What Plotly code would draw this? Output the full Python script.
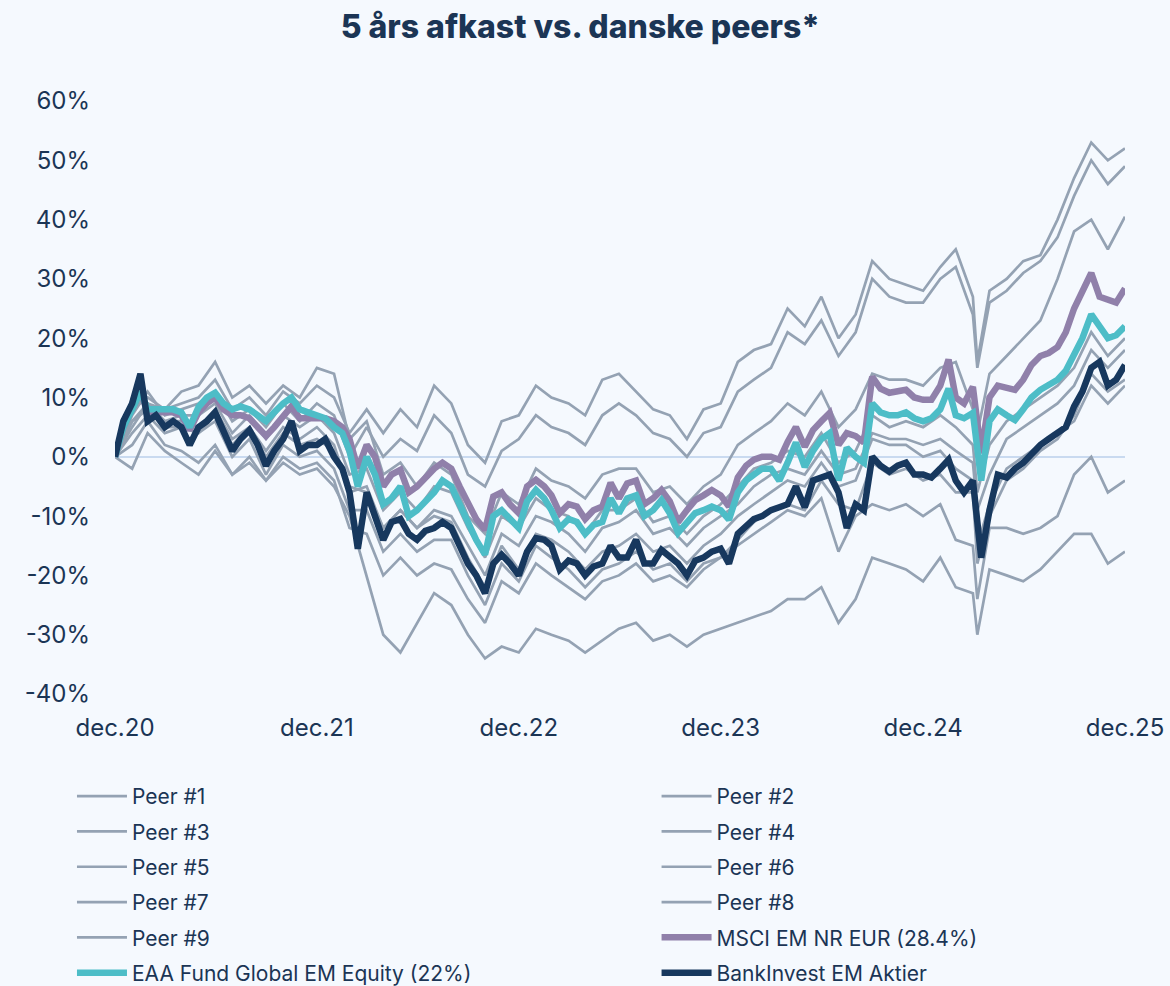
import datetime as dt
import plotly.graph_objects as go

# ---------------- data (percent returns) ----------------
# semi-monthly grid: 2020-12-31, 2021-01-15, 2021-01-31, ... 2025-12-31 (121 points)
bankinvest = [0, 6, 9, 14, 6, 7, 5, 6, 5, 2, 5, 6, 7.5, 4, 1, 3, 4.5, 2, -1.5, 1,
              3, 6, 1, 2, 2, 3, 0, -2, -6, -15.5, -6, -10, -14, -11, -10.5, -13, -14, -12.5, -12, -11,
              -12, -15, -18, -20, -23, -18, -16.5, -18, -20, -16, -13.7, -14, -15, -19, -17.5, -18, -20, -18.5, -18, -15,
              -17, -17, -14, -18, -18, -15.7, -17, -18, -20, -17.5, -17, -16, -15.5, -18, -13, -11.5, -10.5, -10, -9, -8.5,
              -8, -5, -8.5, -4, -3.5, -3, -6, -12, -8, -9, 0, -1.5, -2.5, -1.5, -1, -3, -3, -3.5, -2, -0.5,
              -4, -6, -4, -17, -9, -3, -3.5, -2, -1, 0.5, 2, 3, 4, 5, 8.5, 11, 15, 16, 12, 13, 15.5]
eaa = [0, 5, 8, 11, 8, 8, 8, 8, 7.5, 5, 8.4, 10, 10.8, 9, 8, 8.5, 8, 7, 6, 7.5,
       9, 10, 8, 7.5, 7, 6.5, 5, 4, 1, -5, 0, -3, -8, -7, -5, -10, -9, -7.5, -6, -4,
       -5, -8, -11, -14, -16.5, -10, -9, -10.5, -12, -7.5, -5.6, -7, -9, -12, -10.5, -11, -13, -11.5, -11, -7,
       -9.5, -7, -6.5, -10, -9, -7.3, -9.5, -12.8, -11, -9.5, -9, -8.4, -9, -10.6, -6, -4, -3, -2, -2, -4,
       -1, 2.4, -1.7, 1, 3, 4, -4, 1.5, 0, -1, 9, 7.5, 7, 7, 7.5, 6.5, 6, 6.5, 8, 11.5,
       7, 6.5, 7.4, -4, 6, 8, 7, 6.2, 8, 10, 11.3, 12, 13, 14.5, 17.5, 20, 24, 22, 20, 20.5, 22]
msci = [0, 5, 8, 11, 7.5, 7.5, 7.5, 7.5, 7, 4.5, 7.5, 9, 10, 8, 7, 7, 6.5, 5, 3.5, 5,
        7, 8.5, 6.5, 6.5, 6.5, 6.5, 6, 5, 3, -2, 2, 0, -5, -3, -2.2, -6, -5, -3.5, -2, -1,
        -2, -5, -8, -10.5, -12.3, -6.7, -6, -8, -9.5, -5, -3.9, -5, -6.5, -9.5, -8, -8.4, -10.5, -9, -8.4, -4.4,
        -7, -4.5, -4, -8, -7, -5.6, -7.5, -11, -9, -7.3, -6.5, -5.6, -6.5, -8.4, -3.5, -1.5, -0.5, 0, 0, -0.5,
        2.5, 5, 1.7, 4.5, 6, 7.4, 2, 4, 3.5, 2.4, 13.5, 11.5, 10.8, 11, 11.3, 10, 9.6, 9.6, 12, 16.4,
        10, 9, 11.8, 0.6, 10, 12, 11.5, 11.3, 13, 15.5, 17, 17.5, 18.5, 21, 25, 28, 31, 27, 26.5, 26, 28.4]

# monthly grid for peers: month ends 2020-12 .. 2025-12, plus 2025-04-08 after 2025-03-31 (62 points)
peer1 = [0, 10, 9, 8, 9, 10, 13, 8, 10, 7, 11, 9, 12, 10, 4, 8, 4, 8, 5, 12, 9, 2, -1, 6, 7, 12, 10, 9, 7, 13,
         14, 11, 8, 7, 3, 8, 9, 16, 18, 19, 25, 22, 27, 20, 24, 33, 30, 29, 28, 32, 35, 27, 16,
         28, 30, 33, 34, 40, 47, 53, 50, 52]
peer2 = [0, 7, 11, 7, 8, 9, 11, 6, 8, 5, 9, 6, 9, 7, 0, 5, 0, 3, 1, 7, 4, -3, -5, 1, 3, 7, 5, 4, 2, 7,
         9, 7, 4, 3, 0, 4, 5, 11, 13, 15, 21, 19, 23, 17, 21, 30, 27, 26, 26, 30, 32, 24, 15,
         26, 28, 31, 33, 37, 44, 50, 46, 49]
peer3 = [0, 8, 10, 8, 11, 12, 16, 10, 12, 9, 12, 10, 15, 14, 3, 6, -3, -1, -5, -1, -3, -10, -13, -6, -8, -2, -4, -5, -7, -3,
         -2, -2, -6, -5, -8, -5, -3, 2, 4, 6, 9, 7, 11, 5, 8, 14, 13, 13, 12, 15, 16, 8, 4,
         14, 17, 20, 23, 30, 38, 40, 35, 40.5]
peer4 = [0, 6, 9, 6, 7, 7, 9, 4, 7, 3, 7, 5, 7, 4, -3, -2, -9, -6, -9, -5, -6, -12, -17, -10, -12, -7, -9, -10, -13, -9,
         -9, -7, -11, -10, -13, -10, -8, -5, -2, -1, 1, 0, 4, -1, 1, 7, 5, 6, 5, 7, 5, 2, -6,
         2, 6, 8, 10, 12, 15, 21, 17, 20]
peer5 = [0, 4, 7, 4, 5, 4, 7, 2, 5, 1, 5, 3, 5, 2, -6, -5, -12, -9, -12, -9, -10, -15, -20, -13, -15, -10, -11, -13, -16, -12,
         -11, -9, -13, -12, -15, -12, -10, -8, -5, -3, -2, -3, 1, -3, -2, 4, 3, 3, 2, 3, 1, -1, -9,
         -3, 3, 5, 7, 9, 12, 18, 15, 18]
peer6 = [0, 6, 8, 5, 5, 4, 6, 0, 3, -3, 2, 0, 1, -2, -9, -9, -16, -13, -16, -14, -14, -20, -25, -18, -21, -15, -17, -19, -22, -19,
         -18, -16, -19, -18, -21, -18, -17, -14, -11, -9, -8, -9, -4, -8, -9, -1, -3, -2, -4, -3, -6, -6, -18,
         -10, -4, -2, 1, 3, 7, 14, 11, 13]
peer7 = [0, 5, 9, 6, 6, 5, 8, 3, 5, 0, 4, 2, 3, 1, -5, -6, -12, -9, -12, -10, -11, -17, -22, -15, -19, -13, -14, -16, -19, -16,
         -15, -13, -16, -15, -18, -15, -13, -10, -8, -6, -4, -5, -1, -5, -4, 3, 2, 2, 0, 1, -2, -4, -15,
         -8, -2, 0, 2, 4, 6, 12, 9, 12]
peer8 = [0, 2, 6, 2, 1, -1, 2, -3, 0, -4, 0, -2, -1, -4, -12, -13, -20, -17, -20, -18, -19, -24, -28, -21, -23, -18, -20, -22, -24, -21,
         -20, -18, -21, -20, -22, -19, -17, -15, -13, -11, -9, -10, -7, -16, -10, -8, -9, -8, -10, -8, -14, -15, -24,
         -12, -12, -13, -12, -10, -3, 0, -6, -4]
peer9 = [0, -2, 4, 1, -1, -3, 1, -3, -1, -4, -1, -3, -2, -5, -10, -20, -30, -33, -28, -23, -25, -30, -34, -32, -33, -29, -30, -31, -33, -31,
         -29, -28, -31, -30, -32, -30, -29, -28, -27, -26, -24, -24, -22, -28, -24, -17, -18, -19, -21, -17, -22, -23, -30,
         -19, -20, -21, -19, -16, -13, -13, -18, -16]

peer_names = ["Peer #1", "Peer #2", "Peer #3", "Peer #4", "Peer #5",
              "Peer #6", "Peer #7", "Peer #8", "Peer #9"]
peer_series = [peer1, peer2, peer3, peer4, peer5, peer6, peer7, peer8, peer9]

main_names = ["MSCI EM NR EUR (28.4%)", "EAA Fund Global EM Equity (22%)", "BankInvest EM Aktier"]
main_series = [msci, eaa, bankinvest]

y_ticks = [-40, -30, -20, -10, 0, 10, 20, 30, 40, 50, 60]
y_ticktext = ["-40%", "-30%", "-20%", "-10%", "0%", "10%", "20%", "30%", "40%", "50%", "60%"]
x_ticktext = ["dec.20", "dec.21", "dec.22", "dec.23", "dec.24", "dec.25"]


# ---------------- date grids ----------------
def month_end(y, m):
    if m == 12:
        return dt.date(y, 12, 31)
    return dt.date(y, m + 1, 1) - dt.timedelta(days=1)


months = [(2020, 12)] + [(y, m) for y in range(2021, 2026) for m in range(1, 13)]
month_dates = [month_end(y, m) for (y, m) in months]          # 61 month ends

semi_dates = [month_dates[0]]
for (y, m) in months[1:]:
    semi_dates.append(dt.date(y, m, 15))
    semi_dates.append(month_end(y, m))

peer_dates = month_dates[:52] + [dt.date(2025, 4, 8)] + month_dates[52:]
x_tickvals = [dt.date(y, 12, 31) for y in range(2020, 2026)]

# ---------------- styles ----------------
GRAY = "#94a2b3"
PURPLE = "#9080aa"
TEAL = "#4dbdc7"
NAVY = "#17385e"
TEXT = "#1b3555"
BG = "#f5f9fe"
FONT = "Inter"

main_colors = [PURPLE, TEAL, NAVY]
main_widths = [6.5, 6.5, 6.5]

# left legend column: Peer 1,3,5,7,9, EAA ; right column: Peer 2,4,6,8, MSCI, BankInvest
fig = go.Figure()
for i, (name, vals) in enumerate(zip(peer_names, peer_series)):
    fig.add_trace(go.Scatter(x=peer_dates, y=vals, name=name, mode="lines",
                             legend="legend" if i % 2 == 0 else "legend2",
                             legendgroup=name, legendrank=i,
                             line=dict(color=GRAY, width=2.7)))
main_legends = ["legend2", "legend", "legend2"]
main_ranks = [20, 21, 22]
for name, vals, c, w, lg, rk in zip(main_names, main_series, main_colors, main_widths,
                                    main_legends, main_ranks):
    fig.add_trace(go.Scatter(x=semi_dates, y=vals, name=name, mode="lines",
                             legend=lg, legendgroup=name, legendrank=rk,
                             line=dict(color=c, width=w)))

legend_common = dict(orientation="v", xanchor="left", yanchor="top", y=-0.1383,
                     font=dict(size=21, family=FONT, color=TEXT),
                     bgcolor="rgba(0,0,0,0)", tracegroupgap=5, itemwidth=50)

fig.update_layout(
    width=1170, height=986,
    paper_bgcolor=BG, plot_bgcolor=BG,
    margin=dict(l=115, r=45, t=101, b=292, autoexpand=False),
    font=dict(family=FONT, color=TEXT),
    title=dict(text="5 års afkast vs. danske peers*", x=0.496, xref="container",
               y=1 - 27 / 986, yref="container", yanchor="middle", xanchor="center",
               font=dict(size=32, family=FONT, color=TEXT, weight=800)),
    showlegend=True,
    legend=dict(x=-0.0426, **legend_common),
    legend2=dict(x=0.5362, **legend_common),
    hovermode=False,
)
fig.update_xaxes(range=[dt.date(2020, 12, 31), dt.date(2025, 12, 31)],
                 tickvals=x_tickvals, ticktext=x_ticktext, tickangle=0,
                 showgrid=False, zeroline=False, showline=False, ticks="",
                 tickfont=dict(size=24, family=FONT, color=TEXT), ticklabelstandoff=17)
fig.update_yaxes(range=[-40, 60], tickvals=y_ticks, ticktext=y_ticktext,
                 showgrid=False, zeroline=True, zerolinecolor="#c9daf0", zerolinewidth=1.5,
                 showline=False, ticks="",
                 tickfont=dict(size=24, family=FONT, color=TEXT), ticklabelstandoff=24)

# remove the browser's default 8px page margin so the figure fills the window exactly
fig.write_html("out.html",
               config={"displayModeBar": False},
               post_script="document.body.style.margin='0';"
                           "document.body.style.background='#f5f9fe';"
                           "document.body.style.overflow='hidden';")
